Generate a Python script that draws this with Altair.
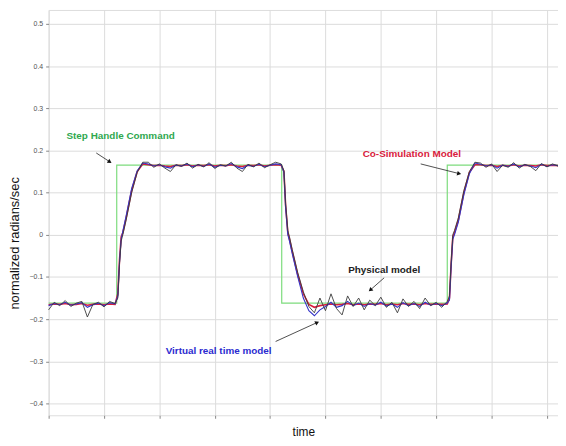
import altair as alt
import pandas as pd

# time grid (arbitrary units, one grid cell = 1)
t = [0.0, 0.1, 0.2, 0.3, 0.4, 0.5, 0.6, 0.7, 0.8, 0.9, 1.0, 1.1, 1.2,
     1.25, 1.28, 1.31, 1.34, 1.4, 1.5, 1.6, 1.7,
     1.8, 1.9, 2.0, 2.1, 2.2, 2.3, 2.4, 2.5, 2.6, 2.7, 2.8, 2.9, 3.0, 3.1, 3.2,
     3.3, 3.4, 3.5, 3.6, 3.7, 3.8, 3.9, 4.0, 4.1, 4.2,
     4.25, 4.28, 4.32, 4.35, 4.4, 4.5, 4.6, 4.7,
     4.8, 4.9, 5.0, 5.1, 5.2, 5.3, 5.4, 5.5, 5.6, 5.7, 5.8, 5.9, 6.0, 6.1, 6.2,
     6.3, 6.4, 6.5, 6.6, 6.7, 6.8, 6.9, 7.0, 7.1, 7.2,
     7.24, 7.27, 7.3, 7.33, 7.4, 7.5, 7.6, 7.7,
     7.8, 7.9, 8.0, 8.1, 8.2, 8.3, 8.4, 8.5, 8.6, 8.7, 8.8, 8.9, 9.0, 9.1, 9.2]

physical = [-0.178, -0.160, -0.168, -0.156, -0.170, -0.162, -0.158, -0.195, -0.165, -0.160, -0.171, -0.158, -0.163,
            -0.150, -0.070, -0.015, 0.000, 0.035, 0.100, 0.148, 0.172,
            0.172, 0.160, 0.168, 0.158, 0.150, 0.166, 0.162, 0.170, 0.158, 0.167, 0.161, 0.171, 0.157, 0.166, 0.163,
            0.172, 0.158, 0.150, 0.167, 0.161, 0.170, 0.159, 0.166, 0.172, 0.168,
            0.152, 0.075, 0.010, -0.005, -0.035, -0.090, -0.135, -0.170,
            -0.185, -0.150, -0.180, -0.140, -0.175, -0.190, -0.145, -0.170, -0.150, -0.178, -0.155, -0.168, -0.148,
            -0.172, -0.160, -0.185, -0.152, -0.170, -0.158, -0.175, -0.150, -0.168, -0.160, -0.172, -0.158,
            -0.145, -0.065, 0.000, 0.010, 0.040, 0.105, 0.150, 0.172,
            0.170, 0.160, 0.168, 0.150, 0.165, 0.160, 0.171, 0.158, 0.167, 0.162, 0.152, 0.169, 0.161, 0.168, 0.163]

virtual = [-0.168, -0.163, -0.166, -0.160, -0.167, -0.164, -0.161, -0.172, -0.166, -0.162, -0.168, -0.161, -0.164,
           -0.145, -0.065, -0.010, 0.008, 0.045, 0.110, 0.152, 0.170,
           0.168, 0.163, 0.166, 0.161, 0.158, 0.165, 0.163, 0.168, 0.161, 0.166, 0.162, 0.168, 0.160, 0.165, 0.163,
           0.169, 0.161, 0.157, 0.165, 0.162, 0.167, 0.161, 0.165, 0.168, 0.166,
           0.148, 0.065, 0.000, -0.015, -0.045, -0.100, -0.150, -0.180,
           -0.192, -0.178, -0.170, -0.160, -0.172, -0.168, -0.158, -0.168, -0.162, -0.170, -0.163, -0.167, -0.160,
           -0.169, -0.164, -0.172, -0.161, -0.168, -0.163, -0.170, -0.160, -0.167, -0.163, -0.168, -0.162,
           -0.155, -0.075, -0.010, 0.000, 0.030, 0.095, 0.145, 0.170,
           0.167, 0.163, 0.166, 0.158, 0.165, 0.162, 0.168, 0.161, 0.166, 0.163, 0.159, 0.167, 0.162, 0.166, 0.164]

cosim = [-0.166, -0.164, -0.165, -0.163, -0.166, -0.165, -0.163, -0.167, -0.165, -0.164, -0.166, -0.164, -0.165,
         -0.140, -0.060, -0.005, 0.005, 0.040, 0.105, 0.150, 0.168,
         0.166, 0.164, 0.165, 0.163, 0.162, 0.165, 0.164, 0.166, 0.163, 0.165, 0.164, 0.166, 0.163, 0.165, 0.164,
         0.166, 0.163, 0.162, 0.165, 0.164, 0.166, 0.163, 0.165, 0.166, 0.165,
         0.150, 0.070, 0.005, -0.010, -0.040, -0.095, -0.140, -0.165,
         -0.172, -0.168, -0.166, -0.164, -0.166, -0.165, -0.163, -0.166, -0.164, -0.166, -0.164, -0.165, -0.163,
         -0.166, -0.164, -0.166, -0.163, -0.165, -0.164, -0.166, -0.163, -0.165, -0.164, -0.165, -0.164,
         -0.150, -0.070, -0.005, 0.005, 0.035, 0.100, 0.148, 0.166,
         0.166, 0.164, 0.165, 0.162, 0.165, 0.163, 0.166, 0.163, 0.165, 0.164, 0.163, 0.166, 0.164, 0.165, 0.164]

step_t = [0.0, 1.23, 1.23, 4.21, 4.21, 7.2, 7.2, 9.2]
step_v = [-0.162, -0.162, 0.165, 0.165, -0.162, -0.162, 0.165, 0.165]

ann_text = ["Step Handle Command", "Co-Simulation Model", "Physical model", "Virtual real time model"]
ann_x = [1.30, 6.56, 6.06, 3.07]
ann_y = [0.234, 0.192, -0.084, -0.276]
ann_color = ["#2fa84f", "#d8203c", "#222222", "#2b2bd0"]

arr_x = [0.86, 6.72, 6.06, 4.10]
arr_y = [0.194, 0.168, -0.102, -0.253]
arr_x2 = [1.105, 7.415, 5.81, 4.85]
arr_y2 = [0.173, 0.145, -0.131, -0.208]
arr_angle = [123, 104, 229, 66]

XDOM = [0, 9.2]
YDOM = [-0.428, 0.533]

xs = alt.Scale(domain=XDOM, nice=False, zero=False)
ys = alt.Scale(domain=YDOM, nice=False, zero=False)

xaxis = alt.Axis(title="time", values=list(range(10)), labels=False, grid=True,
                 gridColor="#dcdcdc", tickColor="#888", tickSize=3, domain=False,
                 titleFont="Liberation Sans", titleFontSize=12, titleFontWeight="normal",
                 titleColor="#111", titlePadding=8)
yaxis = alt.Axis(title="normalized radians/sec", values=[-0.4, -0.3, -0.2, -0.1, 0, 0.1, 0.2, 0.3, 0.4, 0.5],
                 labelExpr="datum.value == 0 ? '0' : format(datum.value, '.1f')",
                 grid=True, gridColor="#dcdcdc", tickColor="#888", tickSize=3, domain=False,
                 labelFont="Liberation Sans", labelFontSize=7, labelColor="#555", labelPadding=3,
                 titleFont="Liberation Sans", titleFontSize=13, titleFontWeight="normal",
                 titleColor="#111", titleX=-27, titleY=235)

df = pd.DataFrame({"t": t, "physical": physical, "virtual": virtual, "cosim": cosim})
sdf = pd.DataFrame({"t": step_t, "v": step_v, "o": list(range(len(step_t)))})
adf = pd.DataFrame({"text": ann_text, "x": ann_x, "y": ann_y, "c": ann_color})
rdf = pd.DataFrame({"x": arr_x, "y": arr_y, "x2": arr_x2, "y2": arr_y2, "a": arr_angle})

step = alt.Chart(sdf).mark_line(color="#7ddc7d", strokeWidth=1.2).encode(
    x=alt.X("t:Q", scale=xs, axis=xaxis),
    y=alt.Y("v:Q", scale=ys, axis=yaxis),
    order="o:O")

def series(col, color, w):
    return alt.Chart(df).mark_line(color=color, strokeWidth=w).encode(
        x=alt.X("t:Q", scale=xs), y=alt.Y(f"{col}:Q", scale=ys))

red = series("cosim", "#d8203c", 1.6)
blue = series("virtual", "#3535c8", 1.1)
black = series("physical", "#3a3a3a", 0.9)

texts = alt.Chart(adf).mark_text(font="Liberation Sans", fontSize=10, fontWeight="bold").encode(
    x=alt.X("x:Q", scale=xs), y=alt.Y("y:Q", scale=ys), text="text:N",
    color=alt.Color("c:N", scale=None))

lines = alt.Chart(rdf).mark_rule(color="#222", strokeWidth=0.8).encode(
    x=alt.X("x:Q", scale=xs), y=alt.Y("y:Q", scale=ys), x2="x2:Q", y2="y2:Q")
heads = alt.Chart(rdf).mark_point(shape="triangle-up", filled=True, color="#111", size=22, opacity=1).encode(
    x=alt.X("x2:Q", scale=xs), y=alt.Y("y2:Q", scale=ys), angle=alt.Angle("a:Q", scale=None))

chart = alt.layer(step, red, blue, black, lines, heads, texts).properties(
    width=514, height=409,
    autosize=alt.AutoSizeParams(type="none"),
    padding={"left": 41, "top": 0, "right": 0, "bottom": 30},
).configure_view(stroke="#999", strokeWidth=1).configure(background="white")

chart.save("out.html", embed_options={"renderer": "svg", "actions": False})
